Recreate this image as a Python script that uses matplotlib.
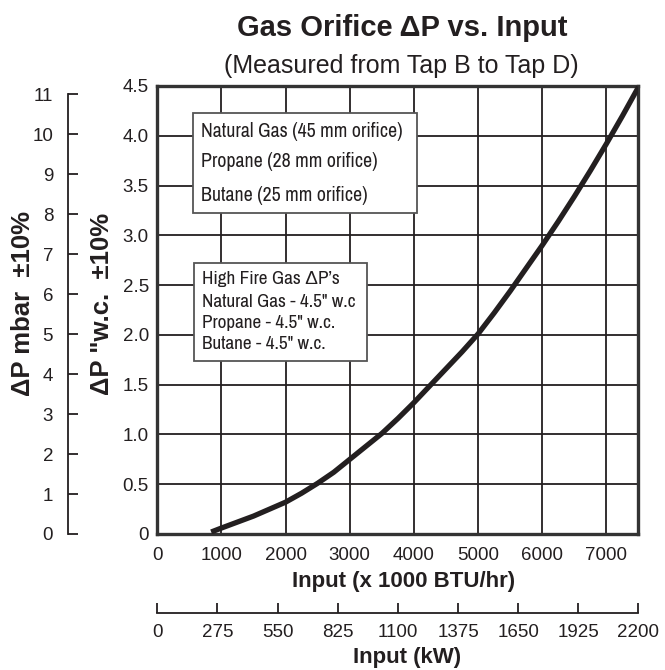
import matplotlib
matplotlib.use("Agg")
import matplotlib.pyplot as plt
from matplotlib.patches import Rectangle

plt.rcParams['font.family'] = ['Liberation Sans', 'DejaVu Sans']
NARROW = ['Archivo Narrow', 'Liberation Sans', 'DejaVu Sans']

# curve: input (x 1000 BTU/hr) vs dP (in. w.c.)
btu = [840, 1000, 1250, 1500, 1750, 2000, 2250, 2500, 2750, 3000, 3250, 3500, 3750, 4000,
       4250, 4500, 4750, 5000, 5250, 5500, 5750, 6000, 6250, 6500, 6750, 7000, 7250, 7500]
dp_wc = [0.02, 0.06, 0.12, 0.18, 0.25, 0.32, 0.41, 0.51, 0.62, 0.75, 0.88, 1.01, 1.16, 1.32,
         1.49, 1.66, 1.83, 2.01, 2.22, 2.44, 2.67, 2.90, 3.14, 3.39, 3.65, 3.92, 4.20, 4.49]

x_ticks = [0, 1000, 2000, 3000, 4000, 5000, 6000, 7000]
y_ticks = [0, 0.5, 1.0, 1.5, 2.0, 2.5, 3.0, 3.5, 4.0, 4.5]
y_labels = ['0', '0.5', '1.0', '1.5', '2.0', '2.5', '3.0', '3.5', '4.0', '4.5']
mbar_ticks = list(range(0, 12))
kw_ticks = [0, 275, 550, 825, 1100, 1375, 1650, 1925, 2200]

legend_lines = ["Natural Gas (45 mm orifice)", "Propane (28 mm orifice)", "Butane (25 mm orifice)"]
fire_lines = ["High Fire Gas \u0394P\u2019s", "Natural Gas - 4.5\" w.c", "Propane - 4.5\" w.c.", "Butane - 4.5\" w.c."]

MBAR_PER_WC = 2.49089
BTU_PER_KW = 3.41214
ink = '#231f20'

W, H = 665, 670
fig = plt.figure(figsize=(W / 100, H / 100), dpi=100)

def fx(px):
    return px / W

def fy(py):
    return 1 - py / H

left, right, top, bottom = 157.3, 638.5, 86, 534
ax = fig.add_axes([fx(left), fy(bottom), fx(right - left), fy(top) - fy(bottom)])
ax.set_xlim(0, 7500)
ax.set_ylim(0, 4.5)

for x in x_ticks[1:]:
    ax.axvline(x, color=ink, lw=1.3, zorder=1)
for y in y_ticks[1:-1]:
    ax.axhline(y, color=ink, lw=1.3, zorder=1)

ax.plot(btu, dp_wc, color=ink, lw=3.8, solid_capstyle='butt', solid_joinstyle='round', zorder=3)

for s in ax.spines.values():
    s.set_linewidth(2.4)
    s.set_color('#333333')
ax.set_xticks(x_ticks)
ax.set_yticks(y_ticks)
ax.set_yticklabels(y_labels)
ax.tick_params(length=0, labelsize=13.5, colors=ink)
ax.tick_params(axis='x', pad=9)
ax.tick_params(axis='y', pad=6)

# mbar axis on the far left
ax_m = ax.twinx()
ax_m.set_ylim(0, 4.5 * MBAR_PER_WC)
ax_m.yaxis.set_ticks_position('left')
ax_m.spines['left'].set_position(('outward', 64))
ax_m.spines['left'].set_bounds(0, 11)
ax_m.spines['left'].set_linewidth(1.3)
ax_m.spines['left'].set_color(ink)
for k in ['right', 'top', 'bottom']:
    ax_m.spines[k].set_visible(False)
ax_m.set_yticks(mbar_ticks)
ax_m.tick_params(axis='y', direction='in', length=7, width=1.3, pad=11, labelsize=13.5, colors=ink)

# kW axis underneath
ax_k = ax.twiny()
ax_k.set_xlim(0, 7500 / BTU_PER_KW)
ax_k.xaxis.set_ticks_position('bottom')
ax_k.xaxis.set_label_position('bottom')
ax_k.spines['bottom'].set_position(('outward', 57))
ax_k.spines['bottom'].set_bounds(0, 2200)
ax_k.spines['bottom'].set_linewidth(1.3)
ax_k.spines['bottom'].set_color(ink)
for k in ['right', 'top', 'left']:
    ax_k.spines[k].set_visible(False)
ax_k.set_xticks(kw_ticks)
ax_k.tick_params(axis='x', direction='in', length=7, width=1.3, pad=8, labelsize=13.5, colors=ink)

# boxes
def box(x0, y0, x1, y1):
    fig.patches.append(Rectangle((fx(x0), fy(y1)), fx(x1 - x0), fy(y0) - fy(y1),
                                 transform=fig.transFigure, facecolor='white',
                                 edgecolor='#555555', lw=1.3, zorder=5))

box(193.3, 112.7, 417.3, 213.3)
for txt, yc in zip(legend_lines, [131.7, 161.7, 195]):
    fig.text(fx(200.7), fy(yc), txt, fontsize=14.3, family=NARROW, color=ink,
             va='center', ha='left', zorder=6)

box(194, 262.7, 367.3, 361)
for txt, yc in zip(fire_lines, [279.3, 301.7, 322.7, 344]):
    fig.text(fx(201.5), fy(yc), txt, fontsize=13.8, family=NARROW, color=ink,
             va='center', ha='left', zorder=6)

# titles and labels
fig.text(fx(402.5), fy(36), "Gas Orifice \u0394P vs. Input", fontsize=21, fontweight='bold',
         color=ink, ha='center', va='baseline')
fig.text(fx(401), fy(72.5), "(Measured from Tap B to Tap D)", fontsize=18, color=ink,
         ha='center', va='baseline')
fig.text(fx(23), fy(304), "\u0394P mbar  \u00b110%", fontsize=18.5, fontweight='bold',
         color=ink, rotation=90, ha='center', va='center')
fig.text(fx(102), fy(304), "\u0394P \"w.c.  \u00b110%", fontsize=18.5, fontweight='bold',
         color=ink, rotation=90, ha='center', va='center')
fig.text(fx(403.5), fy(581.7), "Input (x 1000 BTU/hr)", fontsize=16, fontweight='bold',
         color=ink, ha='center', va='center')
fig.text(fx(407.5), fy(658), "Input (kW)", fontsize=16, fontweight='bold', color=ink,
         ha='center', va='center')

fig.savefig("out.png", dpi=100)
